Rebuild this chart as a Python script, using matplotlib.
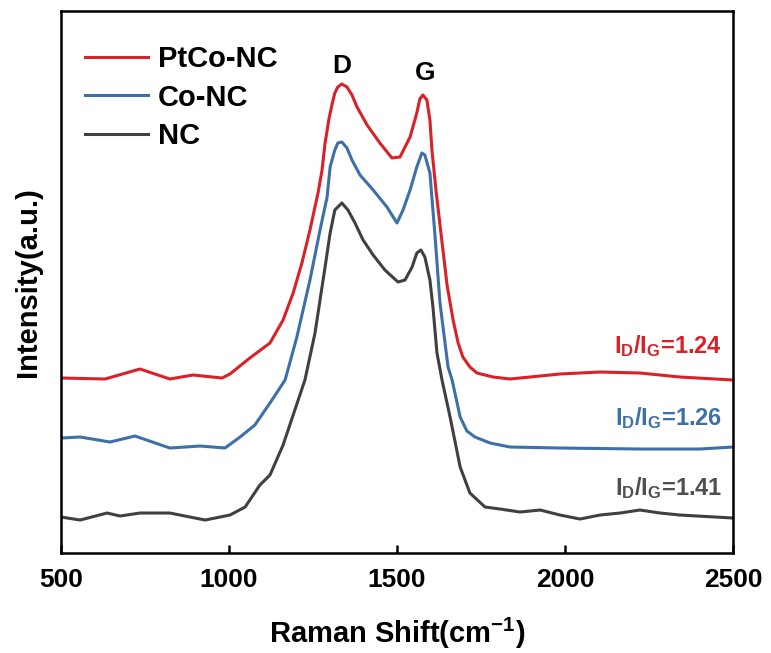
import matplotlib
matplotlib.use('Agg')
import matplotlib.pyplot as plt

plt.rcParams['font.family'] = 'Liberation Sans'
plt.rcParams['font.weight'] = 'bold'
plt.rcParams['mathtext.fontset'] = 'custom'
plt.rcParams['mathtext.rm'] = 'Liberation Sans:bold'
plt.rcParams['mathtext.it'] = 'Liberation Sans:bold'
plt.rcParams['mathtext.bf'] = 'Liberation Sans:bold'

# Raman spectra, offset for display (shift in cm-1, intensity in a.u.)
ptco_shift = [500, 631, 735, 824, 893, 979, 1003, 1062, 1122, 1161, 1191, 1217, 1241,
              1265, 1277, 1286, 1298, 1307, 1315, 1324, 1336, 1351, 1366, 1381, 1411,
              1449, 1485, 1509, 1539, 1559, 1568, 1577, 1589, 1598, 1604, 1616, 1628,
              1649, 1667, 1682, 1696, 1717, 1738, 1786, 1836, 1896, 1985, 2104, 2223,
              2342, 2500]
ptco_int = [175, 174, 184, 174, 178, 175, 179, 195, 210, 233, 260, 290, 323,
            360, 383, 410, 435, 449, 460, 466, 469, 466, 458, 446, 428,
            410, 395, 396, 416, 440, 454, 458, 453, 433, 403, 363, 328,
            268, 233, 210, 196, 186, 180, 176, 174, 176, 179, 181, 180,
            176, 173]

co_shift = [500, 557, 646, 720, 824, 914, 988, 1033, 1077, 1122, 1167, 1202, 1241,
            1271, 1292, 1301, 1315, 1324, 1336, 1351, 1366, 1390, 1429, 1470, 1500,
            1518, 1539, 1559, 1574, 1583, 1598, 1613, 1628, 1652, 1664, 1688, 1708,
            1732, 1777, 1836, 1985, 2223, 2402, 2500]
co_int = [115, 116, 111, 117, 105, 107, 105, 116, 128, 150, 173, 216, 273,
          323, 356, 386, 403, 410, 411, 405, 393, 378, 363, 346, 330,
          343, 363, 386, 400, 398, 380, 318, 250, 186, 173, 136, 122,
          116, 110, 106, 105, 104, 104, 106]

nc_shift = [500, 557, 637, 676, 735, 824, 929, 1003, 1048, 1092, 1122, 1161, 1196,
            1226, 1256, 1286, 1301, 1315, 1336, 1354, 1375, 1399, 1429, 1464, 1503,
            1524, 1545, 1559, 1571, 1583, 1598, 1607, 1619, 1634, 1658, 1688, 1717,
            1762, 1807, 1866, 1926, 1985, 2045, 2104, 2164, 2223, 2283, 2342, 2500]
nc_int = [36, 33, 40, 37, 40, 40, 33, 38, 46, 68, 78, 108, 143,
          173, 220, 286, 320, 343, 350, 343, 330, 313, 298, 283, 271,
          273, 286, 300, 303, 296, 273, 246, 200, 173, 136, 86, 60,
          46, 44, 41, 43, 38, 34, 38, 40, 43, 40, 38, 35]

labels = ['PtCo-NC', 'Co-NC', 'NC']
colors = ['#DA2128', '#3D70A8', '#404040']
ratio_text = ['1.24', '1.26', '1.41']
ratio_colors = ['#DA2128', '#3D70A8', '#505050']
ratio_y = [200, 128, 58]

fig = plt.figure(figsize=(7.71, 6.53), dpi=100)
ax = fig.add_axes([0.0791, 0.1531, 0.8716, 0.8301])

series = [(ptco_shift, ptco_int), (co_shift, co_int), (nc_shift, nc_int)]
for (xs, ys), lab, col in zip(series, labels, colors):
    ax.plot(xs, ys, color=col, lw=2.2, label=lab, solid_joinstyle='round')

ax.set_xlim(500, 2500)
ax.set_ylim(0, 542)
ax.set_xticks([500, 1000, 1500, 2000, 2500])
ax.set_yticks([])
ax.tick_params(axis='x', direction='in', length=6, width=1.8, pad=11, labelsize=19)
for sp in ax.spines.values():
    sp.set_linewidth(1.8)

ax.set_xlabel(r'Raman Shift(cm$^{\mathrm{-1}}$)', fontsize=21, fontweight='bold', labelpad=17)
ax.set_ylabel('Intensity(a.u.)', fontsize=21, fontweight='bold', labelpad=14)

# peak labels
ax.text(1336, 487, 'D', fontsize=19, fontweight='bold', ha='center', va='center')
ax.text(1583, 480, 'G', fontsize=19, fontweight='bold', ha='center', va='center')

for txt, col, yy in zip(ratio_text, ratio_colors, ratio_y):
    ax.text(2467, yy, r'I$_\mathrm{D}$/I$_\mathrm{G}$=' + txt, color=col,
            fontsize=17, fontweight='bold', ha='right', va='baseline')

ax.legend(loc='upper left', bbox_to_anchor=(0.0357, 0.937), frameon=False,
          fontsize=21, handlelength=2.15, handletextpad=0.34, labelspacing=0.36,
          borderpad=0, borderaxespad=0)

fig.savefig('out.png', dpi=100)
